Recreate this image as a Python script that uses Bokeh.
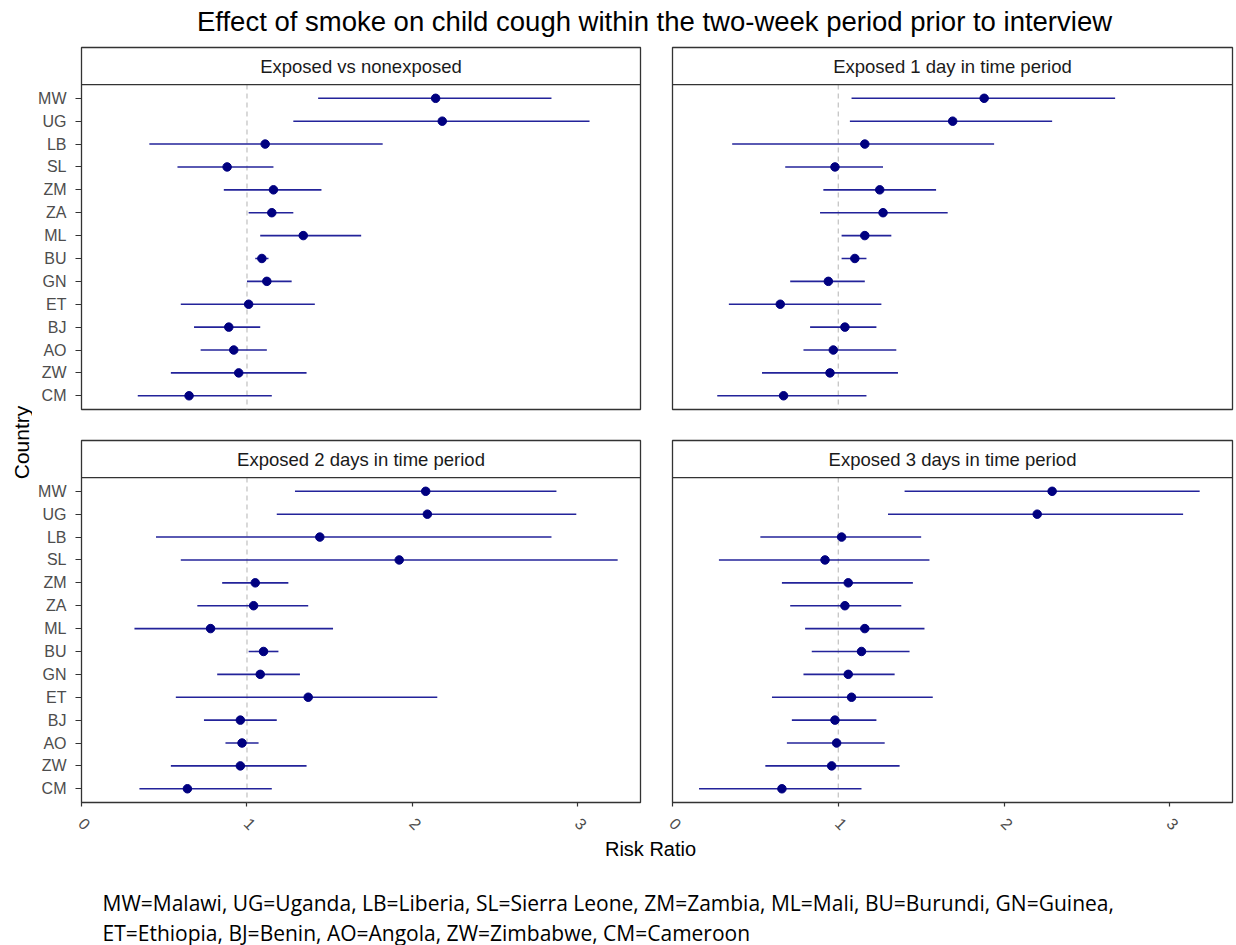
import math
from bokeh.plotting import figure
from bokeh.layouts import column, row
from bokeh.models import Range1d, FixedTicker, Span
from bokeh.embed import file_html
from bokeh.resources import INLINE
from bokeh.core.properties import value

# ---------------- data ----------------
countries = ["MW", "UG", "LB", "SL", "ZM", "ZA", "ML", "BU", "GN", "ET", "BJ", "AO", "ZW", "CM"]

panel_titles = ["Exposed vs nonexposed", "Exposed 1 day in time period",
                "Exposed 2 days in time period", "Exposed 3 days in time period"]

rr_vs = [2.14, 2.18, 1.11, 0.88, 1.16, 1.15, 1.34, 1.09, 1.12, 1.01, 0.89, 0.92, 0.95, 0.65]
lo_vs = [1.43, 1.28, 0.41, 0.58, 0.86, 1.01, 1.08, 1.05, 1.00, 0.60, 0.68, 0.72, 0.54, 0.34]
hi_vs = [2.84, 3.07, 1.82, 1.16, 1.45, 1.28, 1.69, 1.13, 1.27, 1.41, 1.08, 1.12, 1.36, 1.15]

rr_d1 = [1.88, 1.69, 1.16, 0.98, 1.25, 1.27, 1.16, 1.10, 0.94, 0.65, 1.04, 0.97, 0.95, 0.67]
lo_d1 = [1.08, 1.07, 0.36, 0.68, 0.91, 0.89, 1.02, 1.02, 0.71, 0.34, 0.83, 0.79, 0.54, 0.27]
hi_d1 = [2.67, 2.29, 1.94, 1.27, 1.59, 1.66, 1.32, 1.17, 1.16, 1.26, 1.23, 1.35, 1.36, 1.17]

rr_d2 = [2.08, 2.09, 1.44, 1.92, 1.05, 1.04, 0.78, 1.10, 1.08, 1.37, 0.96, 0.97, 0.96, 0.64]
lo_d2 = [1.29, 1.18, 0.45, 0.60, 0.85, 0.70, 0.32, 1.01, 0.82, 0.57, 0.74, 0.87, 0.54, 0.35]
hi_d2 = [2.87, 2.99, 2.84, 3.24, 1.25, 1.37, 1.52, 1.19, 1.32, 2.15, 1.18, 1.07, 1.36, 1.15]

rr_d3 = [2.29, 2.20, 1.02, 0.92, 1.06, 1.04, 1.16, 1.14, 1.06, 1.08, 0.98, 0.99, 0.96, 0.66]
lo_d3 = [1.40, 1.30, 0.53, 0.28, 0.66, 0.71, 0.80, 0.84, 0.79, 0.60, 0.72, 0.69, 0.56, 0.16]
hi_d3 = [3.18, 3.08, 1.50, 1.55, 1.45, 1.38, 1.52, 1.43, 1.34, 1.57, 1.23, 1.28, 1.37, 1.14]

x_ticks = [0, 1, 2, 3]
ref_value = 1.0

title_text = "Effect of smoke on child cough within the two-week period prior to interview"
x_label = "Risk Ratio"
y_label = "Country"
footnote_lines = ["MW=Malawi, UG=Uganda, LB=Liberia, SL=Sierra Leone, ZM=Zambia, ML=Mali, BU=Burundi, GN=Guinea,",
                  "ET=Ethiopia, BJ=Benin, AO=Angola, ZW=Zimbabwe, CM=Cameroon"]

# ---------------- styling ----------------
FONT = "Liberation Sans"
BORDER = "#333333"
LINE_C = "#23239a"
PT_C = "#000080"
X_MAX = 3.378
PAD = 0.6
STRIP_UNITS = 1.62
idx = list(range(len(countries)))


def blank(w, h):
    f = figure(width=w, height=h, x_range=Range1d(0, w), y_range=Range1d(h, 0),
               output_backend="svg", toolbar_location=None,
               x_axis_location=None, y_axis_location=None,
               min_border=0, min_border_left=0, min_border_right=0,
               min_border_top=0, min_border_bottom=0)
    f.outline_line_color = None
    f.xgrid.visible = False
    f.ygrid.visible = False
    return f


def panel(ttl, rr, lo, hi, show_x, show_y, w, h, bl, br, bt, bb):
    p = figure(width=w, height=h,
               x_range=Range1d(0, X_MAX),
               y_range=Range1d(len(countries) - 1 + PAD, -PAD - STRIP_UNITS),
               output_backend="svg", toolbar_location=None,
               x_axis_location="below" if show_x else None,
               y_axis_location="left" if show_y else None,
               min_border_left=bl, min_border_right=br,
               min_border_top=bt, min_border_bottom=bb)
    p.xgrid.visible = False
    p.ygrid.visible = False
    p.outline_line_color = BORDER
    p.outline_line_width = 1.3
    p.add_layout(Span(location=-PAD, dimension="width", line_color=BORDER, line_width=1.3))
    p.text(x=[X_MAX / 2], y=[-PAD - STRIP_UNITS / 2], text=[ttl],
           text_align="center", text_baseline="middle",
           text_font=value(FONT), text_font_size="18.5px", text_color="#1a1a1a")
    p.segment(x0=[ref_value], y0=[-PAD], x1=[ref_value], y1=[len(countries) - 1 + PAD],
              line_color="#c0c0c0", line_width=1.2, line_dash="5 4")
    p.segment(x0=lo, y0=idx, x1=hi, y1=idx, line_color=LINE_C, line_width=1.6)
    p.scatter(x=rr, y=idx, size=8.5, fill_color=PT_C, line_color=PT_C)
    if show_y:
        ax = p.yaxis[0]
        ax.ticker = FixedTicker(ticks=idx)
        ax.major_label_overrides = {i: c for i, c in zip(idx, countries)}
        ax.axis_line_color = None
        ax.major_tick_in = 0
        ax.major_tick_out = 6
        ax.major_tick_line_color = BORDER
        ax.major_tick_line_width = 1.2
        ax.minor_tick_line_color = None
        ax.major_label_text_font = FONT
        ax.major_label_text_font_size = "16px"
        ax.major_label_text_color = "#4d4d4d"
        ax.major_label_standoff = 9
    if show_x:
        ax = p.xaxis[0]
        ax.ticker = FixedTicker(ticks=x_ticks)
        ax.axis_line_color = None
        ax.major_tick_in = 0
        ax.major_tick_out = 4
        ax.major_tick_line_color = BORDER
        ax.major_tick_line_width = 1.2
        ax.minor_tick_line_color = None
        ax.major_label_text_font = FONT
        ax.major_label_text_font_size = "16px"
        ax.major_label_text_color = "#4d4d4d"
        ax.major_label_orientation = -math.pi / 4
        ax.major_label_standoff = 14
    return p


# layout geometry
HEADER_H = 45
TOP_H = 393
BOT_H = 400
LEFT_W = 32
COL1_W = 610
COL2_W = 594
FOOT_H = 945 - HEADER_H - TOP_H - BOT_H

header = blank(1236, HEADER_H)
header.text(x=[654], y=[21], text=[title_text], text_align="center", text_baseline="middle",
            text_font=value(FONT), text_font_size="27.5px", text_color="#000000")

ylab = blank(LEFT_W, TOP_H + BOT_H)
ylab.text(x=[21], y=[397], text=[y_label], angle=math.pi / 2, text_align="center",
          text_baseline="middle", text_font=value(FONT), text_font_size="21px", text_color="#000000")

tl = panel(panel_titles[0], rr_vs, lo_vs, hi_vs, False, True, COL1_W, TOP_H, 49, 2, 2, 29)
tr = panel(panel_titles[1], rr_d1, lo_d1, hi_d1, False, False, COL2_W, TOP_H, 30, 4, 2, 29)
bl = panel(panel_titles[2], rr_d2, lo_d2, hi_d2, True, True, COL1_W, BOT_H, 49, 2, 2, 36)
br = panel(panel_titles[3], rr_d3, lo_d3, hi_d3, True, False, COL2_W, BOT_H, 30, 4, 2, 36)

footer = blank(1236, FOOT_H)
footer.text(x=[650], y=[10], text=[x_label], text_align="center", text_baseline="middle",
            text_font=value(FONT), text_font_size="20px", text_color="#000000")
footer.text(x=[102, 102], y=[64, 94], text=footnote_lines, text_align="left", text_baseline="middle",
            text_font=value("Open Sans"), text_font_size="21px", text_color="#000000")

layout = column(header,
                row(ylab, column(tl, bl, spacing=0), column(tr, br, spacing=0), spacing=0),
                footer, spacing=0)

open("out.html", "w").write(file_html(layout, INLINE))
